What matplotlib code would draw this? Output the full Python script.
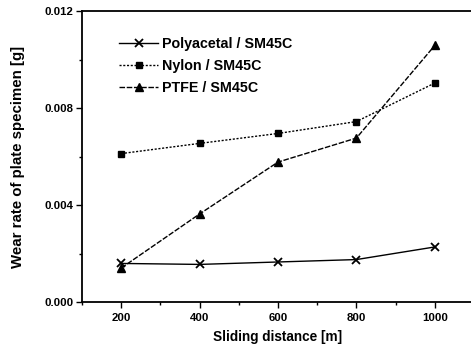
import matplotlib
matplotlib.use("Agg")
import matplotlib.pyplot as plt
from matplotlib.ticker import MultipleLocator, FormatStrFormatter

distance = [200, 400, 600, 800, 1000]
polyacetal = [0.00159, 0.00155, 0.00165, 0.00175, 0.00227]
nylon = [0.00612, 0.00654, 0.00695, 0.00744, 0.00903]
ptfe = [0.00140, 0.00363, 0.00577, 0.00676, 0.01058]
labels = ["Polyacetal / SM45C", "Nylon / SM45C", "PTFE / SM45C"]

plt.rcParams['font.family'] = ['Liberation Sans', 'DejaVu Sans']

fig = plt.figure(figsize=(4.71, 3.49), dpi=100)
ax = fig.add_axes([82/471, 1-302/349, (474-82)/471, (302-11)/349])

ax.plot(distance, polyacetal, color='black', lw=1.0, marker='x', ms=5.5, mew=1.3,
        linestyle='-', label=labels[0])
ax.plot(distance, nylon, color='black', lw=1.0, marker='s', ms=4.5,
        linestyle=(0, (1.5, 1.2)), label=labels[1])
ax.plot(distance, ptfe, color='black', lw=1.0, marker='^', ms=5.5,
        linestyle=(0, (4, 1.2)), label=labels[2])

ax.set_xlim(100, 1100)
ax.set_ylim(0, 0.012)
ax.xaxis.set_major_locator(MultipleLocator(200))
ax.xaxis.set_minor_locator(MultipleLocator(100))
ax.yaxis.set_major_locator(MultipleLocator(0.004))
ax.yaxis.set_minor_locator(MultipleLocator(0.002))
ax.yaxis.set_major_formatter(FormatStrFormatter('%.3f'))

ax.tick_params(axis='both', which='major', direction='out', length=4, width=1,
               labelsize=8.2, pad=2)
ax.tick_params(axis='x', which='major', pad=4)
ax.tick_params(axis='both', which='minor', direction='out', length=2.5, width=1)
for lab in ax.get_xticklabels() + ax.get_yticklabels():
    lab.set_fontweight('bold')
for s in ax.spines.values():
    s.set_linewidth(1.3)

ax.set_xlabel("Sliding distance [m]", fontsize=9.8, fontweight='bold', labelpad=5)
ax.set_ylabel("Wear rate of plate specimen [g]", fontsize=10.8, fontweight='bold', labelpad=14)

leg = ax.legend(loc='upper left', bbox_to_anchor=(0.07, 0.945), frameon=False,
                fontsize=10.3, handlelength=2.7, handletextpad=0.25, labelspacing=0.55,
                borderpad=0.2)
for t in leg.get_texts():
    t.set_fontweight('bold')

fig.savefig("out.png", dpi=100)
